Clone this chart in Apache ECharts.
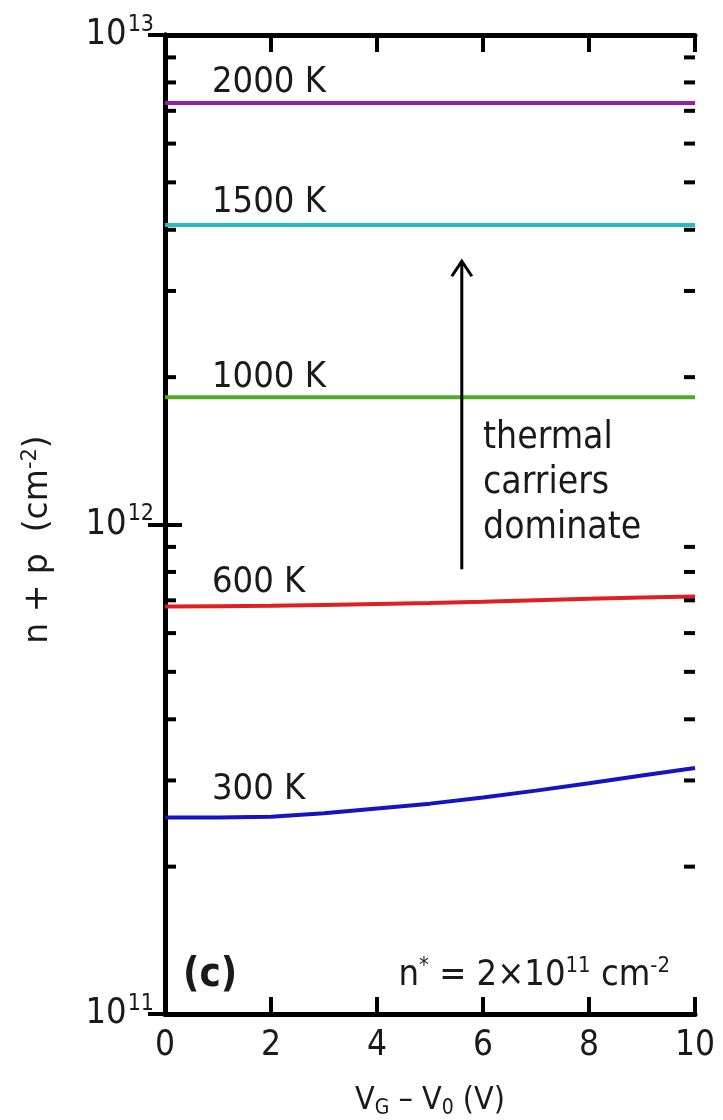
<!DOCTYPE html>
<html><head><meta charset="utf-8">
<script src="https://cdn.jsdelivr.net/npm/echarts@6/dist/echarts.min.js"></script>
<style>html,body{margin:0;padding:0;background:#fff;overflow:hidden}#c{width:723px;height:1120px}</style>
</head><body><div id="c"></div>
<script>
// ---- data ----
const xVals = [0, 1, 2, 3, 4, 5, 6, 7, 8, 9, 10];
const n300  = [2.52e11, 2.52e11, 2.53e11, 2.57e11, 2.63e11, 2.69e11, 2.77e11, 2.86e11, 2.96e11, 3.07e11, 3.18e11];
const n600  = [6.80e11, 6.81e11, 6.82e11, 6.85e11, 6.88e11, 6.91e11, 6.95e11, 7.00e11, 7.05e11, 7.09e11, 7.13e11];
const n1000 = [1.82e12, 1.82e12, 1.82e12, 1.82e12, 1.82e12, 1.82e12, 1.82e12, 1.82e12, 1.82e12, 1.82e12, 1.82e12];
const n1500 = [4.09e12, 4.09e12, 4.09e12, 4.09e12, 4.09e12, 4.09e12, 4.09e12, 4.09e12, 4.09e12, 4.09e12, 4.09e12];
const n2000 = [7.26e12, 7.26e12, 7.26e12, 7.26e12, 7.26e12, 7.26e12, 7.26e12, 7.26e12, 7.26e12, 7.26e12, 7.26e12];
const tempLabels = ['300 K', '600 K', '1000 K', '1500 K', '2000 K'];
const xTicks = [0, 2, 4, 6, 8, 10];
const yMinorTicks = [2e11,3e11,4e11,5e11,6e11,7e11,8e11,9e11,2e12,3e12,4e12,5e12,6e12,7e12,8e12,9e12];
const arrow = [[5.6, 8.1e11, 3.45e12]];

const FONT = 'DejaVu Sans Condensed';
const FONT2 = 'DejaVu Sans';
const TXT = '#1a1a1a';
const colors = ['#1414c4', '#e02020', '#4eac26', '#26bac4', '#9a1caa'];
const seriesData = [n300, n600, n1000, n1500, n2000];
const labelGap = [18, 14, 10, 12, 10];

const chart = echarts.init(document.getElementById('c'));

const lineSeries = seriesData.map((arr, i) => ({
  type: 'line', name: tempLabels[i], showSymbol: false, symbol: 'none',
  lineStyle: { color: colors[i], width: 4 }, z: 3,
  data: arr.map((v, k) => [xVals[k], v])
}));

const axisLineStyle = { show: true, lineStyle: { color: '#000', width: 5 } };

const option = {
  animation: false,
  backgroundColor: '#fff',
  grid: { left: 165, right: 28, top: 35, bottom: 106, containLabel: false, outerBoundsMode: 'none' },
  xAxis: [{
    type: 'value', min: 0, max: 10, interval: 2, position: 'bottom',
    axisLine: axisLineStyle,
    axisTick: { inside: true, length: 17, lineStyle: { width: 4, color: '#000' } },
    axisLabel: { fontFamily: FONT, fontSize: 35, color: TXT, margin: 14,
      formatter: v => xTicks.indexOf(v) >= 0 ? String(v) : '' },
    splitLine: { show: false },
    name: 'V{s|G} – V{s|0} (V)', nameLocation: 'middle', nameGap: 68,
    nameTextStyle: { fontFamily: FONT, fontSize: 32, color: TXT,
      rich: { s: { fontFamily: FONT, fontSize: 21, color: TXT, padding: [16, 0, 0, 0] } } }
  }, {
    type: 'value', min: 0, max: 10, interval: 2, position: 'top',
    axisLine: axisLineStyle,
    axisTick: { inside: true, length: 17, lineStyle: { width: 4, color: '#000' } },
    axisLabel: { show: false }, splitLine: { show: false }
  }],
  yAxis: [{
    type: 'log', logBase: 10, min: 1e11, max: 1e13, position: 'left',
    axisLine: axisLineStyle,
    axisTick: { inside: true, length: 17, lineStyle: { width: 4, color: '#000' } },
    axisLabel: {
      margin: 11, color: TXT, fontFamily: FONT,
      formatter: v => '{b|10}{s|' + Math.round(Math.log10(v)) + '}',
      rich: {
        b: { fontFamily: FONT, fontSize: 36, color: TXT },
        s: { fontFamily: FONT, fontSize: 23, color: TXT, padding: [0, 0, 20, 1] }
      }
    },
    splitLine: { show: false }, minorTick: { show: false },
    name: 'n + p  (cm{s|-2})', nameLocation: 'middle', nameGap: 108, nameRotate: 90,
    nameTextStyle: { fontFamily: FONT2, fontSize: 33, color: TXT, padding: [0, 30, 0, 0],
      rich: { s: { fontFamily: FONT2, fontSize: 21, color: TXT, padding: [0, 0, 16, 0] } } }
  }, {
    type: 'log', logBase: 10, min: 1e11, max: 1e13, position: 'right',
    axisLine: axisLineStyle,
    axisTick: { inside: true, length: 17, lineStyle: { width: 4, color: '#000' } },
    axisLabel: { show: false }, splitLine: { show: false }
  }],
  series: [
    ...lineSeries,
    {
      type: 'custom', name: 'tempLabels', coordinateSystem: 'cartesian2d', clip: false, z: 6,
      data: seriesData.map((arr, i) => [xVals[1], arr[1], i]),
      renderItem: (params, api) => {
        const i = api.value(2);
        const p = api.coord([api.value(0), api.value(1)]);
        return { type: 'text', x: p[0] - 6, y: p[1] - labelGap[i] + 8, style: {
          text: tempLabels[i], fill: TXT, font: '36px "DejaVu Sans Condensed"',
          align: 'left', verticalAlign: 'bottom' } };
      }
    },
    {
      type: 'custom', name: 'minorTicks', coordinateSystem: 'cartesian2d', clip: false, z: 5,
      data: yMinorTicks.map(v => [0, v]),
      renderItem: (params, api) => {
        const v = api.value(1);
        const pl = api.coord([0, v]);
        const pr = api.coord([10, v]);
        const st = { stroke: '#000', lineWidth: 4 };
        return { type: 'group', children: [
          { type: 'line', shape: { x1: pl[0], y1: pl[1], x2: pl[0] + 11, y2: pl[1] }, style: st },
          { type: 'line', shape: { x1: pr[0], y1: pr[1], x2: pr[0] - 11, y2: pr[1] }, style: st }
        ] };
      }
    },
    {
      type: 'custom', name: 'arrow', coordinateSystem: 'cartesian2d', clip: false, z: 6,
      data: arrow,
      renderItem: (params, api) => {
        const x = api.value(0);
        const p0 = api.coord([x, api.value(1)]);
        const p1 = api.coord([x, api.value(2)]);
        const st = { stroke: '#000', lineWidth: 3, fill: null };
        return { type: 'group', children: [
          { type: 'line', shape: { x1: p0[0], y1: p0[1], x2: p1[0], y2: p1[1] + 1 }, style: st },
          { type: 'polyline', shape: { points: [[p1[0] - 10, p1[1] + 15], [p1[0], p1[1]], [p1[0] + 10, p1[1] + 15]] }, style: st }
        ] };
      }
    },
    {
      type: 'custom', name: 'notes', coordinateSystem: 'cartesian2d', clip: false, z: 7,
      data: [[6.0, 1.64e12, 0], [0.34, 1.2e11, 1], [9.53, 1.2e11, 2]],
      renderItem: (params, api) => {
        const p = api.coord([api.value(0), api.value(1)]);
        const k = api.value(2);
        if (k === 0) {
          return { type: 'text', x: p[0], y: p[1] - 3, style: {
            text: 'thermal\ncarriers\ndominate', fill: TXT, font: '37px "DejaVu Sans Condensed"',
            lineHeight: 45, align: 'left', verticalAlign: 'top' } };
        }
        if (k === 1) {
          return { type: 'text', x: p[0], y: p[1], style: {
            text: '(c)', fill: TXT, font: 'bold 40px "DejaVu Sans Condensed"', align: 'left', verticalAlign: 'middle' } };
        }
        return { type: 'text', x: p[0], y: p[1], style: {
          text: 'n{s|*} = 2×10{s|11} cm{s|-2}', fill: TXT, font: '36px "DejaVu Sans Condensed"',
          fontFamily: FONT, fontSize: 36,
          align: 'right', verticalAlign: 'middle',
          rich: { s: { fontFamily: FONT, fontSize: 22, fill: TXT, padding: [0, 0, 18, 0] } } } };
      }
    }
  ]
};
chart.setOption(option);
</script></body></html>
